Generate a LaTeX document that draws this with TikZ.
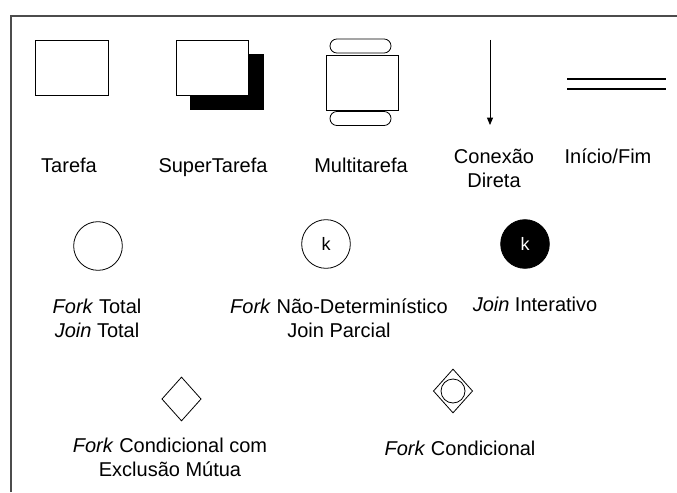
\documentclass[tikz,border=0pt]{standalone}
\usepackage{fontspec}
\setmainfont{Liberation Sans}
\usetikzlibrary{shapes.geometric, arrows.meta, positioning}

\begin{document}
\begin{tikzpicture}[
  x=0.75pt, y=-0.75pt,
  symbol/.style={draw, line width=0.6pt, inner sep=0pt},
  task/.style={symbol, rectangle, fill=white, minimum width=54.5pt, minimum height=41.25pt},
  pill/.style={symbol, rectangle, rounded corners=5.2pt, fill=white, minimum width=45.75pt, minimum height=10.5pt},
  junction/.style={symbol, circle, minimum size=36.5pt, font=\fontsize{13.5}{15}\selectfont},
  gate/.style={symbol, diamond, minimum width=29.5pt, minimum height=33pt},
  caption/.style={anchor=base, align=center, inner sep=0pt, font=\fontsize{15}{17.6}\selectfont},
  arrow/.style={-{Triangle[width=4.5pt, length=5.5pt]}, line width=0.6pt},
  frame/.style={line width=0.8pt, black!70}
]
  \useasboundingbox (0,0) rectangle (677,492);
  \draw[frame] (11,492) -- (11,16) -- (677,16);

  % first row
  \node[task] (tarefa) at (72,67.5) {};
  \node[task, fill=black] (superShadow) at (227,82) {};
  \node[task] (super) at (212.5,67.5) {};
  \node[task] (multi) at (362.5,82.5) {};
  \node[pill] (multiTop) at (360.5,46) {};
  \node[pill] (multiBottom) at (360.5,118.5) {};
  \coordinate (arrowStart) at (490,40);
  \coordinate (arrowEnd) at (490,125);
  \draw[arrow] (arrowStart) -- (arrowEnd);
  \draw[line width=0.9pt] (567,79) -- (666,79);
  \draw[line width=0.9pt] (567,89) -- (666,89);

  \node[caption] (tarefaLabel) at (69,172) {Tarefa};
  \node[caption] (superLabel) at (213,172) {SuperTarefa};
  \node[caption] (multiLabel) at (361,172) {Multitarefa};
  \node[caption] (arrowLabel) at (494,187) {Conexão\\Direta};
  \node[caption] (endsLabel) at (608,163) {Início/Fim};

  % second row
  \node[junction] (forkTotal) at (98,246) {};
  \node[junction] (forkPartial) at (326,244) {k};
  \node[junction, fill=black, text=white] (joinIter) at (525,244) {k};

  \node[caption] (forkTotalLabel) at (97,337) {\textit{Fork} Total\\\textit{Join} Total};
  \node[caption] (forkPartialLabel) at (339,337) {\textit{Fork} Não-Determinístico\\Join Parcial};
  \node[caption] (joinIterLabel) at (535,311) {\textit{Join} Interativo};

  % third row
  \node[gate] (condExcl) at (181.5,399) {};
  \node[gate] (cond) at (453,391) {};
  \node[symbol, circle, minimum size=18pt] (condRing) at (cond) {};

  \node[caption] (condExclLabel) at (170,476) {\textit{Fork} Condicional com\\Exclusão Mútua};
  \node[caption] (condLabel) at (460,455) {\textit{Fork} Condicional};
\end{tikzpicture}
\end{document}
